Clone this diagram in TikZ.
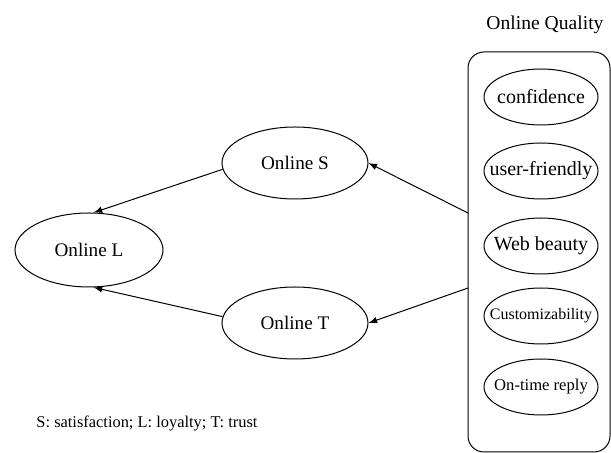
\documentclass[tikz,border=0pt]{standalone}
\usepackage{fontspec}
\setmainfont{Liberation Serif}
\usetikzlibrary{shapes.geometric}

\begin{document}
\begin{tikzpicture}[x=0.5pt,y=-0.5pt,line width=0.5pt,
    grand/.style={draw,ellipse,inner sep=0pt,minimum width=73pt,minimum height=36pt,font=\fontsize{9.6}{12}\selectfont},
    petit/.style={draw,ellipse,inner sep=0pt,minimum width=57pt,minimum height=28pt,font=\fontsize{10}{12}\selectfont},
    fleche/.style={-latex}]
\useasboundingbox (0,0) rectangle (611,453);
\node[draw,rounded corners=8pt,minimum width=71pt,minimum height=200pt] (qual) at (539,252) {};
\node[font=\fontsize{9.8}{12}\selectfont] (titre) at (545,25) {Online Quality};
\node[petit] (conf) at (541,97) {\makebox[0pt]{confidence}};
\node[petit] (user) at (541,171) {\makebox[0pt]{user-friendly}};
\node[petit] (web) at (541,246) {\makebox[0pt]{Web beauty}};
\node[petit,font=\fontsize{8}{10}\selectfont] (cust) at (541,316) {\makebox[0pt]{Customizability}};
\node[petit,font=\fontsize{8.3}{10}\selectfont] (reply) at (541,387) {\makebox[0pt]{On-time reply}};
\node[grand] (s) at (295,163) {Online S};
\node[grand,minimum width=74pt,minimum height=37pt] (l) at (89,250) {Online L};
\node[grand] (t) at (295,323) {Online T};
\coordinate (q1) at (468,213); % bord gauche de la boite
\coordinate (q2) at (468,288);
\draw[fleche] (q1) -- (s.east);
\draw[fleche] (q2) -- (t.east);
\draw[fleche] (s.185) -- (l.83);
\draw[fleche] (t.175) -- (l.277);
\node[font=\fontsize{8.2}{10}\selectfont] (note) at (147,424) {S: satisfaction; L: loyalty; T: trust};
\end{tikzpicture}
\end{document}
